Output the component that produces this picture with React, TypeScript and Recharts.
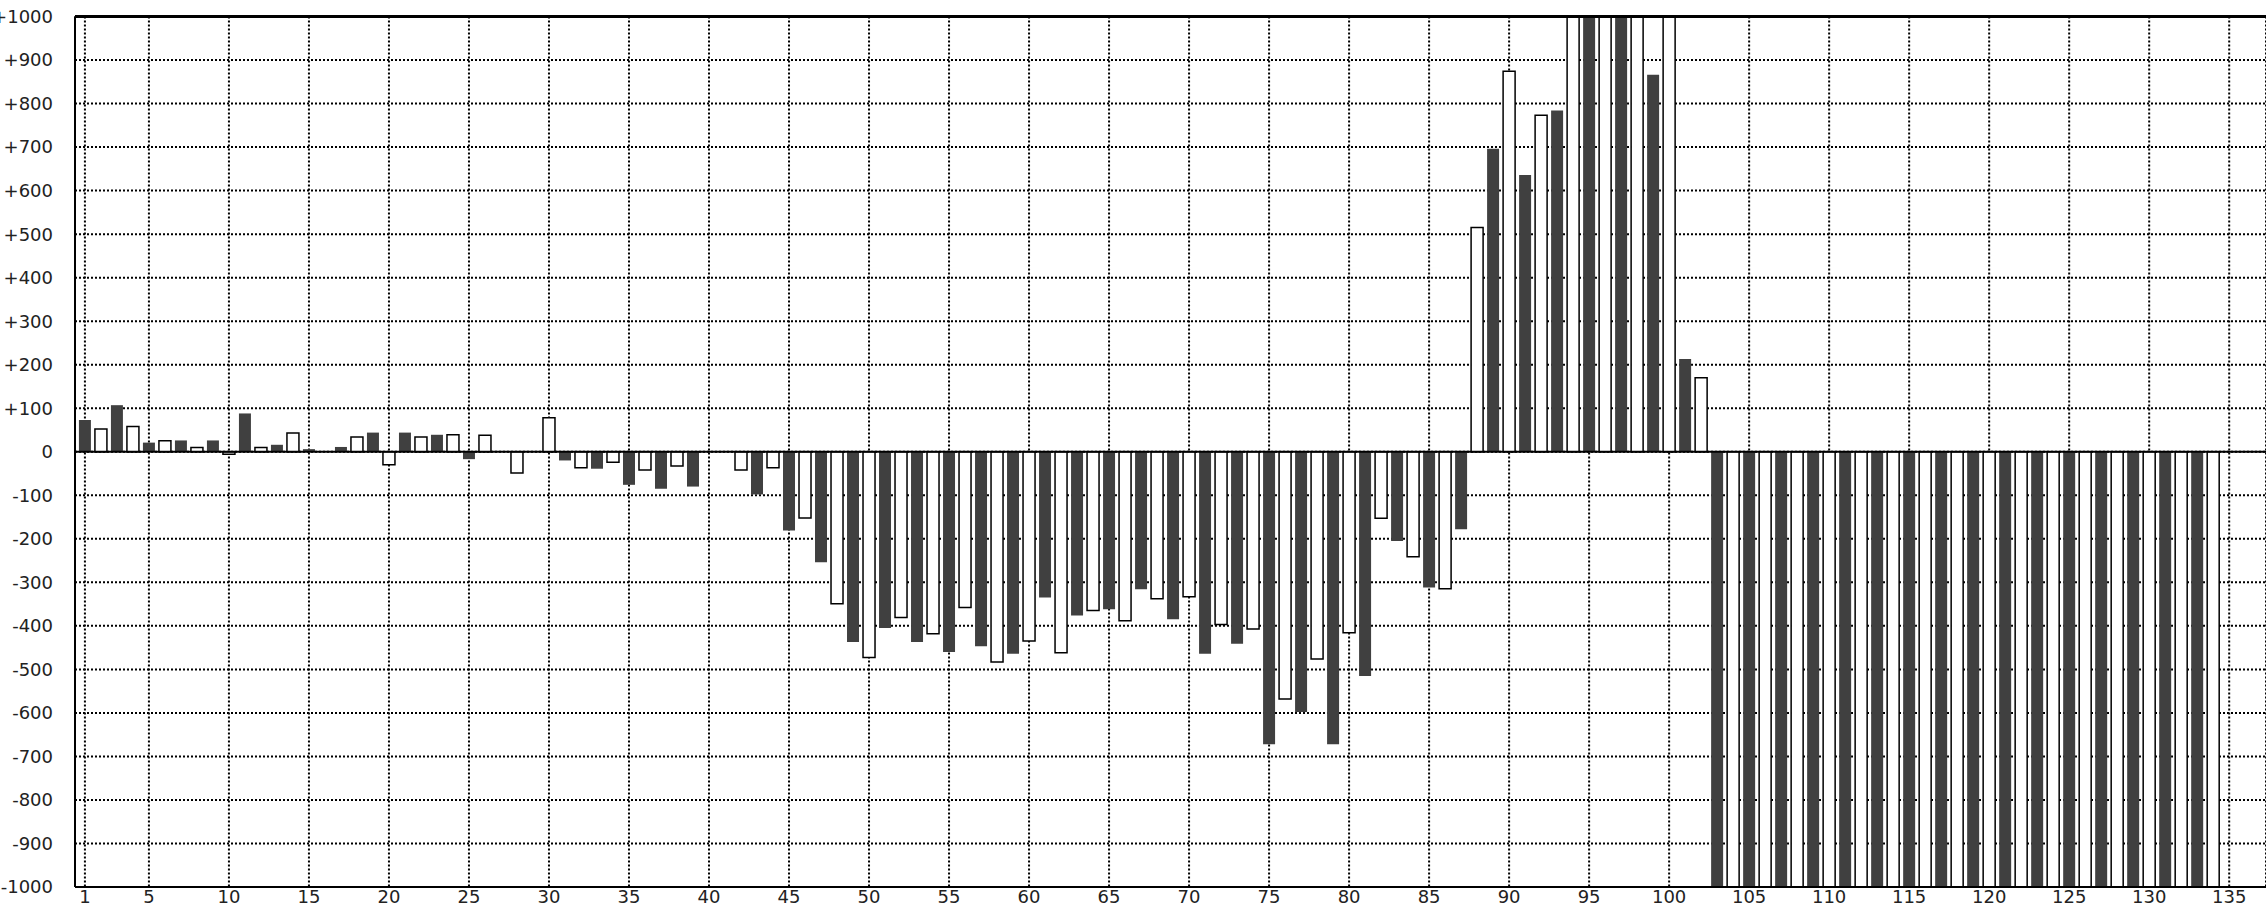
import { BarChart, Bar, Cell, XAxis, YAxis, CartesianGrid, ReferenceLine } from 'recharts';

// category index (1..134)
const categories = [
  1, 2, 3, 4, 5, 6, 7, 8, 9, 10, 11, 12, 13, 14, 15, 16, 17, 18, 19, 20,
  21, 22, 23, 24, 25, 26, 27, 28, 29, 30, 31, 32, 33, 34, 35, 36, 37, 38, 39, 40,
  41, 42, 43, 44, 45, 46, 47, 48, 49, 50, 51, 52, 53, 54, 55, 56, 57, 58, 59, 60,
  61, 62, 63, 64, 65, 66, 67, 68, 69, 70, 71, 72, 73, 74, 75, 76, 77, 78, 79, 80,
  81, 82, 83, 84, 85, 86, 87, 88, 89, 90, 91, 92, 93, 94, 95, 96, 97, 98, 99, 100,
  101, 102, 103, 104, 105, 106, 107, 108, 109, 110, 111, 112, 113, 114, 115, 116, 117, 118, 119, 120,
  121, 122, 123, 124, 125, 126, 127, 128, 129, 130, 131, 132, 133, 134,
];

// bar values (anything past +/-1000 is clipped by the axis)
const values = [
  73, 52, 107, 58, 21, 25, 26, 10, 26, -6,
  88, 10, 16, 43, 6, 0, 11, 34, 44, -30,
  44, 34, 39, 39, -17, 38, 0, -49, 0, 78,
  -20, -37, -39, -24, -76, -42, -85, -33, -80, 0,
  0, -42, -98, -37, -181, -152, -254, -349, -437, -473,
  -405, -381, -437, -418, -460, -358, -447, -483, -464, -435,
  -335, -462, -376, -365, -362, -388, -316, -338, -385, -333,
  -464, -397, -441, -407, -672, -568, -598, -476, -672, -416,
  -515, -153, -205, -241, -312, -315, -178, 515, 696, 874,
  636, 773, 784, 1100, 1100, 1100, 1100, 1100, 866, 1100,
  213, 170, -1100, -1100, -1100, -1100, -1100, -1100, -1100, -1100,
  -1100, -1100, -1100, -1100, -1100, -1100, -1100, -1100, -1100, -1100,
  -1100, -1100, -1100, -1100, -1100, -1100, -1100, -1100, -1100, -1100,
  -1100, -1100, -1100, -1100,
];

const xTicks = [1, 5, 10, 15, 20, 25, 30, 35, 40, 45, 50, 55, 60, 65, 70, 75, 80, 85, 90, 95, 100, 105, 110, 115, 120, 125, 130, 135];
const yTicks = [-1000, -900, -800, -700, -600, -500, -400, -300, -200, -100, 0, 100, 200, 300, 400, 500, 600, 700, 800, 900, 1000];

const data = categories.map((x, i) => ({ x, v: values[i] }));

const tickStyle = { fontFamily: 'DejaVu Sans', fontSize: 18, fill: '#222' };

export default function App() {
  return (
    <div style={{ position: 'absolute', left: 0, top: 0 }}>
      <BarChart
        width={2266}
        height={908}
        data={data}
        margin={{ top: 16.5, right: 0, bottom: 0, left: 0 }}
      >
        <CartesianGrid stroke="#000" strokeWidth={2} strokeDasharray="2 2" />
        <XAxis
          dataKey="x"
          type="number"
          domain={[0.38, 137.3]}
          ticks={xTicks}
          interval={0}
          allowDataOverflow
          height={21}
          tickLine={false}
          tickSize={0}
          tickMargin={3}
          axisLine={{ stroke: '#000', strokeWidth: 2 }}
          tick={tickStyle}
        />
        <YAxis
          type="number"
          domain={[-1000, 1000]}
          ticks={yTicks}
          interval={0}
          allowDataOverflow
          width={75}
          tickLine={false}
          tickSize={0}
          tickMargin={22}
          axisLine={{ stroke: '#000', strokeWidth: 2 }}
          tick={tickStyle}
          tickFormatter={(v: number) => (v > 0 ? `+${v}` : `${v}`)}
        />
        <Bar dataKey="v" barSize={12} isAnimationActive={false}>
          {data.map((d) => (
            <Cell
              key={d.x}
              fill={d.x % 2 === 1 ? '#404040' : '#ffffff'}
              stroke={d.x % 2 === 1 ? 'none' : '#000'}
              strokeWidth={1.5}
            />
          ))}
        </Bar>
        <ReferenceLine y={0} stroke="#000" strokeWidth={2} />
        <ReferenceLine y={1000} stroke="#000" strokeWidth={3} />
      </BarChart>
    </div>
  );
}
